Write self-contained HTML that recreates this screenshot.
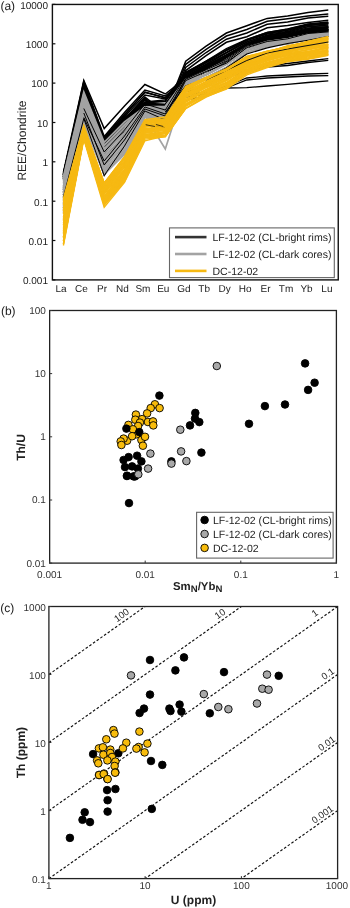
<!DOCTYPE html>
<html><head><meta charset="utf-8"><style>
html,body{margin:0;padding:0;background:#fff;}
body{width:350px;height:908px;position:relative;overflow:hidden;font-family:"Liberation Sans", sans-serif;}
svg text{font-family:"Liberation Sans", sans-serif;text-rendering:geometricPrecision;}
svg{will-change:transform;}
</style></head><body>
<svg width="350" height="908" viewBox="0 0 350 908" style="position:absolute;left:0;top:0">
<defs><clipPath id="ca"><rect x="52.4" y="4.45" width="285.85" height="275.45"/></clipPath></defs>
<g clip-path="url(#ca)">
<polyline points="63.4,190.0 83.8,100.0 104.2,150.0 124.5,128.0 144.9,124.0 165.3,127.0 185.7,95.0 206.1,92.0 226.4,86.0 246.8,78.0 267.2,76.0 287.6,75.0 308.0,74.0 328.3,73.3" fill="none" stroke="#000" stroke-width="1.3" stroke-linejoin="miter" stroke-miterlimit="10"/>
<polyline points="63.4,195.0 83.8,105.0 104.2,158.0 124.5,135.0 144.9,125.0 165.3,128.0 185.7,100.0 206.1,96.0 226.4,88.0 246.8,87.7 267.2,86.0 287.6,84.3 308.0,82.5 328.3,80.9" fill="none" stroke="#000" stroke-width="1.3" stroke-linejoin="miter" stroke-miterlimit="10"/>
<polyline points="63.4,192.0 83.8,102.0 104.2,154.0 124.5,131.0 144.9,110.0 165.3,115.0 185.7,97.0 206.1,94.0 226.4,88.0 246.8,80.0 267.2,78.0 287.6,77.0 308.0,76.0 328.3,75.7" fill="none" stroke="#000" stroke-width="1.3" stroke-linejoin="miter" stroke-miterlimit="10"/>
<polyline points="63.4,188.0 83.8,98.0 104.2,146.0 124.5,124.0 144.9,104.0 165.3,110.0 185.7,90.0 206.1,84.0 226.4,76.0 246.8,70.0 267.2,67.0 287.6,65.5 308.0,62.5 328.3,60.3" fill="none" stroke="#000" stroke-width="1.3" stroke-linejoin="miter" stroke-miterlimit="10"/>
<polyline points="63.4,189.0 83.8,99.0 104.2,148.0 124.5,126.0 144.9,106.0 165.3,112.0 185.7,92.0 206.1,86.0 226.4,78.0 246.8,71.0 267.2,66.0 287.6,63.5 308.0,61.0 328.3,58.6" fill="none" stroke="#000" stroke-width="1.3" stroke-linejoin="miter" stroke-miterlimit="10"/>
<polyline points="63.4,174.0 83.8,85.0 104.2,141.5 124.5,119.0 144.9,97.0 165.3,113.0 185.7,61.2 206.1,46.2 226.4,33.0 246.8,25.7 267.2,18.4 287.6,16.1 308.0,12.5 328.3,10.0" fill="none" stroke="#000" stroke-width="1.5" stroke-linejoin="miter" stroke-miterlimit="10"/>
<polyline points="63.4,175.0 83.8,86.0 104.2,142.5 124.5,120.0 144.9,98.0 165.3,115.0 185.7,64.3 206.1,49.4 226.4,36.0 246.8,29.5 267.2,21.3 287.6,18.7 308.0,16.0 328.3,14.1" fill="none" stroke="#000" stroke-width="1.5" stroke-linejoin="miter" stroke-miterlimit="10"/>
<polyline points="63.4,176.0 83.8,87.0 104.2,143.5 124.5,121.0 144.9,99.0 165.3,117.0 185.7,67.5 206.1,52.5 226.4,39.2 246.8,33.0 267.2,24.2 287.6,22.1 308.0,18.0 328.3,16.2" fill="none" stroke="#000" stroke-width="1.5" stroke-linejoin="miter" stroke-miterlimit="10"/>
<polyline points="63.4,177.0 83.8,88.0 104.2,144.5 124.5,122.0 144.9,100.0 165.3,118.5 185.7,70.6 206.1,55.7 226.4,42.3 246.8,36.7 267.2,27.8 287.6,25.6 308.0,22.4 328.3,20.3" fill="none" stroke="#000" stroke-width="1.5" stroke-linejoin="miter" stroke-miterlimit="10"/>
<polyline points="63.4,172.5 83.8,80.5 104.2,128.5 124.5,106.0 144.9,84.5 165.3,94.0 185.7,78.0 206.1,66.0 226.4,55.0 246.8,44.0 267.2,37.0 287.6,34.0 308.0,30.0 328.3,28.0" fill="none" stroke="#000" stroke-width="1.5" stroke-linejoin="miter" stroke-miterlimit="10"/>
<polyline points="63.4,175.0 83.8,81.5 104.2,136.5 124.5,112.5 144.9,90.0 165.3,96.0 185.7,79.0 206.1,67.5 226.4,56.5 246.8,45.0 267.2,38.0 287.6,35.0 308.0,31.0 328.3,29.0" fill="none" stroke="#000" stroke-width="1.5" stroke-linejoin="miter" stroke-miterlimit="10"/>
<polyline points="63.4,177.0 83.8,82.5 104.2,138.0 124.5,114.5 144.9,92.5 165.3,97.5 185.7,80.0 206.1,69.0 226.4,58.0 246.8,46.0 267.2,39.0 287.6,36.0 308.0,32.0 328.3,30.0" fill="none" stroke="#000" stroke-width="1.5" stroke-linejoin="miter" stroke-miterlimit="10"/>
<polyline points="63.4,179.0 83.8,83.5 104.2,139.5 124.5,116.5 144.9,95.0 165.3,99.0 185.7,81.0 206.1,70.0 226.4,59.0 246.8,47.0 267.2,40.0 287.6,37.0 308.0,33.0 328.3,31.0" fill="none" stroke="#000" stroke-width="1.5" stroke-linejoin="miter" stroke-miterlimit="10"/>
<polyline points="63.4,173.5 83.8,85.0 104.2,141.0 124.5,117.5 144.9,102.0 165.3,100.0 185.7,72.2 206.1,61.0 226.4,48.6 246.8,39.3 267.2,32.4 287.6,29.0 308.0,24.0 328.3,22.0" fill="none" stroke="#000" stroke-width="1.3" stroke-linejoin="miter" stroke-miterlimit="10"/>
<polyline points="63.4,173.3 83.8,85.0 104.2,141.5 124.5,118.5 144.9,102.5 165.3,100.9 185.7,73.4 206.1,61.0 226.4,50.0 246.8,39.5 267.2,32.5 287.6,29.1 308.0,24.3 328.3,23.1" fill="none" stroke="#000" stroke-width="1.3" stroke-linejoin="miter" stroke-miterlimit="10"/>
<polyline points="63.4,173.7 83.8,86.0 104.2,141.8 124.5,118.1 144.9,102.8 165.3,101.5 185.7,72.6 206.1,61.9 226.4,50.7 246.8,40.2 267.2,33.3 287.6,30.4 308.0,25.1 328.3,23.0" fill="none" stroke="#000" stroke-width="1.3" stroke-linejoin="miter" stroke-miterlimit="10"/>
<polyline points="63.4,175.0 83.8,86.7 104.2,141.6 124.5,118.9 144.9,103.2 165.3,104.1 185.7,74.3 206.1,62.9 226.4,52.4 246.8,40.5 267.2,34.2 287.6,31.4 308.0,25.5 328.3,24.1" fill="none" stroke="#000" stroke-width="1.3" stroke-linejoin="miter" stroke-miterlimit="10"/>
<polyline points="63.4,174.3 83.8,87.1 104.2,142.7 124.5,119.4 144.9,104.1 165.3,104.6 185.7,74.8 206.1,64.1 226.4,52.9 246.8,41.6 267.2,35.5 287.6,32.4 308.0,26.7 328.3,25.0" fill="none" stroke="#000" stroke-width="1.3" stroke-linejoin="miter" stroke-miterlimit="10"/>
<polyline points="63.4,174.7 83.8,87.6 104.2,142.9 124.5,120.3 144.9,104.4 165.3,105.6 185.7,74.9 206.1,64.9 226.4,53.0 246.8,42.1 267.2,35.1 287.6,31.9 308.0,26.7 328.3,25.8" fill="none" stroke="#000" stroke-width="1.3" stroke-linejoin="miter" stroke-miterlimit="10"/>
<polyline points="63.4,175.2 83.8,87.4 104.2,142.8 124.5,120.6 144.9,103.8 165.3,107.1 185.7,75.8 206.1,65.9 226.4,55.2 246.8,43.3 267.2,35.9 287.6,33.0 308.0,27.8 328.3,26.7" fill="none" stroke="#000" stroke-width="1.3" stroke-linejoin="miter" stroke-miterlimit="10"/>
<polyline points="63.4,176.7 83.8,87.8 104.2,142.9 124.5,120.2 144.9,104.4 165.3,108.4 185.7,76.5 206.1,65.8 226.4,55.1 246.8,43.3 267.2,36.7 287.6,33.9 308.0,29.3 328.3,27.2" fill="none" stroke="#000" stroke-width="1.3" stroke-linejoin="miter" stroke-miterlimit="10"/>
<polyline points="63.4,176.4 83.8,88.9 104.2,143.9 124.5,120.3 144.9,105.7 165.3,109.9 185.7,77.4 206.1,67.2 226.4,56.6 246.8,43.8 267.2,36.9 287.6,34.6 308.0,28.7 328.3,26.9" fill="none" stroke="#000" stroke-width="1.3" stroke-linejoin="miter" stroke-miterlimit="10"/>
<polyline points="63.4,176.4 83.8,88.7 104.2,143.8 124.5,120.8 144.9,104.9 165.3,110.3 185.7,76.9 206.1,67.4 226.4,57.2 246.8,45.0 267.2,38.3 287.6,34.7 308.0,29.7 328.3,28.0" fill="none" stroke="#000" stroke-width="1.3" stroke-linejoin="miter" stroke-miterlimit="10"/>
<polyline points="63.4,177.0 83.8,89.2 104.2,144.8 124.5,122.5 144.9,106.0 165.3,112.0 185.7,77.5 206.1,67.8 226.4,58.7 246.8,44.8 267.2,39.3 287.6,35.4 308.0,30.0 328.3,29.6" fill="none" stroke="#000" stroke-width="1.3" stroke-linejoin="miter" stroke-miterlimit="10"/>
<polyline points="63.4,177.6 83.8,89.6 104.2,144.7 124.5,121.6 144.9,106.4 165.3,113.8 185.7,79.1 206.1,69.3 226.4,59.5 246.8,45.5 267.2,38.9 287.6,36.9 308.0,31.3 328.3,30.0" fill="none" stroke="#000" stroke-width="1.3" stroke-linejoin="miter" stroke-miterlimit="10"/>
<polyline points="63.4,177.7 83.8,90.2 104.2,145.4 124.5,123.4 144.9,107.3 165.3,114.8 185.7,79.7 206.1,70.1 226.4,60.5 246.8,46.3 267.2,39.9 287.6,36.6 308.0,31.3 328.3,30.0" fill="none" stroke="#000" stroke-width="1.3" stroke-linejoin="miter" stroke-miterlimit="10"/>
<polyline points="63.4,177.9 83.8,91.4 104.2,146.0 124.5,123.1 144.9,107.8 165.3,116.3 185.7,80.5 206.1,70.4 226.4,61.6 246.8,46.5 267.2,40.3 287.6,37.5 308.0,32.9 328.3,31.6" fill="none" stroke="#000" stroke-width="1.3" stroke-linejoin="miter" stroke-miterlimit="10"/>
<polyline points="63.4,179.1 83.8,91.5 104.2,145.9 124.5,124.0 144.9,107.0 165.3,117.0 185.7,81.0 206.1,71.6 226.4,63.3 246.8,47.4 267.2,40.9 287.6,39.0 308.0,33.1 328.3,32.1" fill="none" stroke="#000" stroke-width="1.3" stroke-linejoin="miter" stroke-miterlimit="10"/>
<polyline points="63.4,179.0 83.8,92.0 104.2,146.0 124.5,124.0 144.9,108.0 165.3,118.0 185.7,81.0 206.1,72.0 226.4,64.0 246.8,48.0 267.2,42.0 287.6,39.3 308.0,34.0 328.3,32.4" fill="none" stroke="#000" stroke-width="1.3" stroke-linejoin="miter" stroke-miterlimit="10"/>
<polyline points="63.4,180.0 83.8,84.0 104.2,138.0 124.5,115.0 144.9,92.0 165.3,98.0 185.7,73.1 206.1,62.1 226.4,50.1 246.8,40.2 267.2,33.4 287.6,30.0 308.0,25.0 328.3,23.0" fill="none" stroke="#000" stroke-width="1.3" stroke-linejoin="miter" stroke-miterlimit="10"/>
<polyline points="63.4,189.7 83.8,108.5 104.2,152.0 124.5,130.0 144.9,104.0 165.3,110.0 185.7,76.6 206.1,66.5 226.4,56.3 246.8,43.6 267.2,37.2 287.6,34.1 308.0,29.0 328.3,27.2" fill="none" stroke="#000" stroke-width="1.3" stroke-linejoin="miter" stroke-miterlimit="10"/>
<polyline points="63.4,192.5 83.8,117.5 104.2,161.0 124.5,136.0 144.9,107.0 165.3,114.0 185.7,78.4 206.1,68.7 226.4,59.4 246.8,45.4 267.2,39.1 287.6,36.2 308.0,31.0 328.3,29.3" fill="none" stroke="#000" stroke-width="1.3" stroke-linejoin="miter" stroke-miterlimit="10"/>
<polyline points="63.4,194.5 83.8,113.0 104.2,165.0 124.5,140.0 144.9,109.0 165.3,116.0 185.7,79.2 206.1,69.8 226.4,60.9 246.8,46.3 267.2,40.1 287.6,37.2 308.0,32.0 328.3,30.3" fill="none" stroke="#000" stroke-width="1.3" stroke-linejoin="miter" stroke-miterlimit="10"/>
<polyline points="63.4,197.2 83.8,118.5 104.2,175.5 124.5,146.0 144.9,111.0 165.3,120.0 185.7,80.6 206.1,71.5 226.4,63.2 246.8,47.6 267.2,41.5 287.6,38.8 308.0,33.5 328.3,31.9" fill="none" stroke="#000" stroke-width="1.3" stroke-linejoin="miter" stroke-miterlimit="10"/>
<polyline points="63.4,180.0 83.8,84.0 104.2,138.0 124.5,115.0 144.9,92.0 165.3,98.0 185.7,73.1 206.1,62.1 226.4,50.1 246.8,40.2 267.2,33.4 287.6,30.0 308.0,25.0 328.3,23.0" fill="none" stroke="#000" stroke-width="1.0" stroke-linejoin="miter" stroke-miterlimit="10"/>
<polyline points="63.4,189.7 83.8,108.5" fill="none" stroke="#000" stroke-width="1.0" stroke-linejoin="miter" stroke-miterlimit="10"/>
<polyline points="63.4,192.5 83.8,117.5" fill="none" stroke="#000" stroke-width="1.0" stroke-linejoin="miter" stroke-miterlimit="10"/>
<polyline points="63.4,194.5 83.8,113.0" fill="none" stroke="#000" stroke-width="1.0" stroke-linejoin="miter" stroke-miterlimit="10"/>
<polyline points="63.4,176.7 83.8,92.1 104.2,142.3 124.5,122.0 144.9,106.9 165.3,106.3 185.7,79.1 206.1,70.9 226.4,60.0 246.8,46.9 267.2,41.5 287.6,38.8 308.0,34.7 328.3,32.7" fill="none" stroke="#A3A3A3" stroke-width="1.7" stroke-linejoin="miter" stroke-miterlimit="10"/>
<polyline points="63.4,178.6 83.8,93.7 104.2,145.3 124.5,124.4 144.9,107.4 165.3,106.9 185.7,79.4 206.1,71.0 226.4,60.1 246.8,47.0 267.2,41.4 287.6,39.0 308.0,34.5 328.3,32.9" fill="none" stroke="#A3A3A3" stroke-width="1.7" stroke-linejoin="miter" stroke-miterlimit="10"/>
<polyline points="63.4,179.5 83.8,95.2 104.2,145.5 124.5,125.6 144.9,107.6 165.3,107.7 185.7,79.8 206.1,71.0 226.4,60.0 246.8,47.0 267.2,41.7 287.6,39.1 308.0,34.7 328.3,33.0" fill="none" stroke="#A3A3A3" stroke-width="1.7" stroke-linejoin="miter" stroke-miterlimit="10"/>
<polyline points="63.4,181.5 83.8,96.7 104.2,148.5 124.5,128.3 144.9,106.8 165.3,107.8 185.7,79.9 206.1,71.1 226.4,60.1 246.8,46.8 267.2,41.7 287.6,39.2 308.0,34.4 328.3,33.0" fill="none" stroke="#A3A3A3" stroke-width="1.7" stroke-linejoin="miter" stroke-miterlimit="10"/>
<polyline points="63.4,183.5 83.8,98.1 104.2,150.1 124.5,129.8 144.9,107.4 165.3,109.3 185.7,80.4 206.1,70.8 226.4,59.9 246.8,47.1 267.2,41.5 287.6,38.8 308.0,34.7 328.3,32.9" fill="none" stroke="#A3A3A3" stroke-width="1.7" stroke-linejoin="miter" stroke-miterlimit="10"/>
<polyline points="63.4,186.3 83.8,98.8 104.2,150.2 124.5,129.7 144.9,109.2 165.3,109.8 185.7,79.9 206.1,71.1 226.4,59.8 246.8,46.8 267.2,41.6 287.6,39.0 308.0,34.3 328.3,33.0" fill="none" stroke="#A3A3A3" stroke-width="1.7" stroke-linejoin="miter" stroke-miterlimit="10"/>
<polyline points="63.4,187.3 83.8,101.7 104.2,151.3 124.5,132.9 144.9,108.3 165.3,111.9 185.7,80.9 206.1,74.3 226.4,63.8 246.8,49.8 267.2,43.6 287.6,41.2 308.0,36.7 328.3,34.5" fill="none" stroke="#A3A3A3" stroke-width="1.7" stroke-linejoin="miter" stroke-miterlimit="10"/>
<polyline points="63.4,188.2 83.8,102.7 104.2,153.0 124.5,133.4 144.9,108.7 165.3,111.5 185.7,80.4 206.1,74.5 226.4,64.0 246.8,50.2 267.2,43.7 287.6,41.3 308.0,36.8 328.3,34.6" fill="none" stroke="#A3A3A3" stroke-width="1.7" stroke-linejoin="miter" stroke-miterlimit="10"/>
<polyline points="63.4,190.0 83.8,104.9 104.2,155.6 124.5,135.5 144.9,110.0 165.3,112.6 185.7,80.8 206.1,74.7 226.4,64.1 246.8,49.9 267.2,43.6 287.6,41.2 308.0,36.7 328.3,34.2" fill="none" stroke="#A3A3A3" stroke-width="1.7" stroke-linejoin="miter" stroke-miterlimit="10"/>
<polyline points="63.4,191.9 83.8,105.2 104.2,157.6 124.5,137.7 144.9,110.8 165.3,113.2 185.7,82.9 206.1,74.5 226.4,63.8 246.8,49.9 267.2,43.5 287.6,41.2 308.0,36.5 328.3,34.2" fill="none" stroke="#A3A3A3" stroke-width="1.7" stroke-linejoin="miter" stroke-miterlimit="10"/>
<polyline points="63.4,193.3 83.8,106.7 104.2,158.4 124.5,138.3 144.9,111.7 165.3,114.9 185.7,82.8 206.1,74.3 226.4,64.2 246.8,50.2 267.2,43.8 287.6,41.4 308.0,36.9 328.3,34.2" fill="none" stroke="#A3A3A3" stroke-width="1.7" stroke-linejoin="miter" stroke-miterlimit="10"/>
<polyline points="63.4,195.4 83.8,108.8 104.2,160.4 124.5,140.4 144.9,112.4 165.3,115.6 185.7,83.5 206.1,74.7 226.4,64.0 246.8,50.1 267.2,43.8 287.6,41.4 308.0,36.7 328.3,34.2" fill="none" stroke="#A3A3A3" stroke-width="1.7" stroke-linejoin="miter" stroke-miterlimit="10"/>
<polyline points="63.4,197.6 83.8,110.8 104.2,161.3 124.5,141.4 144.9,112.6 165.3,115.4 185.7,83.5 206.1,74.5 226.4,63.9 246.8,50.0 267.2,43.8 287.6,41.4 308.0,36.8 328.3,34.5" fill="none" stroke="#A3A3A3" stroke-width="1.7" stroke-linejoin="miter" stroke-miterlimit="10"/>
<polyline points="63.4,197.8 83.8,111.1 104.2,162.3 124.5,143.3 144.9,112.4 165.3,117.3 185.7,82.4 206.1,74.5 226.4,64.0 246.8,49.8 267.2,43.9 287.6,41.1 308.0,37.0 328.3,34.6" fill="none" stroke="#A3A3A3" stroke-width="1.7" stroke-linejoin="miter" stroke-miterlimit="10"/>
<polyline points="63.4,199.4 83.8,113.3 104.2,165.0 124.5,145.3 144.9,113.2 165.3,117.5 185.7,83.1 206.1,74.7 226.4,64.0 246.8,50.2 267.2,43.9 287.6,41.2 308.0,36.9 328.3,34.4" fill="none" stroke="#A3A3A3" stroke-width="1.7" stroke-linejoin="miter" stroke-miterlimit="10"/>
<polyline points="63.4,201.0 83.8,113.9 104.2,165.8 124.5,145.8 144.9,113.5 165.3,118.1 185.7,83.7 206.1,74.6 226.4,64.2 246.8,49.9 267.2,43.7 287.6,41.2 308.0,37.0 328.3,34.4" fill="none" stroke="#A3A3A3" stroke-width="1.7" stroke-linejoin="miter" stroke-miterlimit="10"/>
<polyline points="63.4,203.4 83.8,116.2 104.2,166.9 124.5,146.5 144.9,113.6 165.3,120.4 185.7,83.9 206.1,78.2 226.4,68.2 246.8,53.1 267.2,46.2 287.6,43.8 308.0,39.0 328.3,36.1" fill="none" stroke="#A3A3A3" stroke-width="1.7" stroke-linejoin="miter" stroke-miterlimit="10"/>
<polyline points="63.4,204.4 83.8,118.4 104.2,168.8 124.5,149.4 144.9,115.2 165.3,120.1 185.7,83.8 206.1,77.9 226.4,68.1 246.8,52.9 267.2,46.0 287.6,43.5 308.0,38.8 328.3,35.8" fill="none" stroke="#A3A3A3" stroke-width="1.7" stroke-linejoin="miter" stroke-miterlimit="10"/>
<polyline points="63.4,206.4 83.8,120.2 104.2,170.4 124.5,149.9 144.9,116.2 165.3,122.4 185.7,84.9 206.1,78.0 226.4,68.2 246.8,53.1 267.2,46.0 287.6,43.6 308.0,39.0 328.3,35.9" fill="none" stroke="#A3A3A3" stroke-width="1.7" stroke-linejoin="miter" stroke-miterlimit="10"/>
<polyline points="63.4,208.3 83.8,120.1 104.2,171.5 124.5,152.9 144.9,115.2 165.3,122.3 185.7,85.6 206.1,78.2 226.4,68.2 246.8,52.8 267.2,45.8 287.6,43.7 308.0,39.2 328.3,36.0" fill="none" stroke="#A3A3A3" stroke-width="1.7" stroke-linejoin="miter" stroke-miterlimit="10"/>
<polyline points="63.4,210.5 83.8,121.5 104.2,173.3 124.5,154.3 144.9,117.1 165.3,123.9 185.7,86.6 206.1,78.1 226.4,68.1 246.8,53.0 267.2,46.0 287.6,43.4 308.0,39.1 328.3,35.9" fill="none" stroke="#A3A3A3" stroke-width="1.7" stroke-linejoin="miter" stroke-miterlimit="10"/>
<polyline points="63.4,212.8 83.8,124.3 104.2,174.6 124.5,154.3 144.9,116.5 165.3,124.3 185.7,86.4 206.1,77.8 226.4,67.9 246.8,53.0 267.2,46.2 287.6,43.7 308.0,39.2 328.3,36.0" fill="none" stroke="#A3A3A3" stroke-width="1.7" stroke-linejoin="miter" stroke-miterlimit="10"/>
<polyline points="63.4,208.5 83.8,120.8 104.2,171.8 124.5,151.8 144.9,115.9 165.3,149.0 185.7,85.3 206.1,77.3 226.4,67.2 246.8,52.4 267.2,45.5 287.6,43.1 308.0,38.5 328.3,35.7" fill="none" stroke="#A3A3A3" stroke-width="1.7" stroke-linejoin="miter" stroke-miterlimit="10"/>
<polyline points="83.8,108.5 104.2,152.0 124.5,130.0 144.9,104.0 165.3,110.0 185.7,76.6 206.1,66.5 226.4,56.3 246.8,43.6 267.2,37.2 287.6,34.1 308.0,29.0 328.3,27.2" fill="none" stroke="#000" stroke-width="1.0" stroke-linejoin="miter" stroke-miterlimit="10"/>
<polyline points="83.8,117.5 104.2,161.0 124.5,136.0 144.9,107.0 165.3,114.0 185.7,78.4 206.1,68.7 226.4,59.4 246.8,45.4 267.2,39.1 287.6,36.2 308.0,31.0 328.3,29.3" fill="none" stroke="#000" stroke-width="1.0" stroke-linejoin="miter" stroke-miterlimit="10"/>
<polyline points="83.8,113.0 104.2,165.0 124.5,140.0 144.9,109.0 165.3,116.0 185.7,79.2 206.1,69.8 226.4,60.9 246.8,46.3 267.2,40.1 287.6,37.2 308.0,32.0 328.3,30.3" fill="none" stroke="#000" stroke-width="1.0" stroke-linejoin="miter" stroke-miterlimit="10"/>
<polyline points="63.4,197.2 83.8,118.5 104.2,175.5 124.5,146.0 144.9,111.0 165.3,120.0 185.7,80.6 206.1,71.5 226.4,63.2 246.8,47.6 267.2,41.5 287.6,38.8 308.0,33.5 328.3,31.9" fill="none" stroke="#000" stroke-width="1.0" stroke-linejoin="miter" stroke-miterlimit="10"/>
<polyline points="165.3,112.0 185.7,86.0 206.1,79.0 226.4,68.0 246.8,54.0 267.2,47.9 287.6,43.5 308.0,40.2 328.3,36.5" fill="none" stroke="#000" stroke-width="1.1" stroke-linejoin="miter" stroke-miterlimit="10"/>
<polyline points="63.4,198.5 83.8,125.5 104.2,182.9 124.5,156.9 144.9,119.6 165.3,117.0 185.7,86.5 206.1,77.8 226.4,68.8 246.8,56.5 267.2,51.3 287.6,46.9 308.0,41.5 328.3,36.6" fill="none" stroke="#F6B913" stroke-width="1.4" stroke-linejoin="miter" stroke-miterlimit="10"/>
<polyline points="63.4,200.1 83.8,126.2 104.2,183.1 124.5,156.7 144.9,121.2 165.3,119.1 185.7,87.2 206.1,77.5 226.4,70.5 246.8,57.1 267.2,52.1 287.6,45.9 308.0,41.9 328.3,38.6" fill="none" stroke="#F6B913" stroke-width="1.4" stroke-linejoin="miter" stroke-miterlimit="10"/>
<polyline points="63.4,201.4 83.8,127.7 104.2,183.5 124.5,157.5 144.9,120.7 165.3,119.0 185.7,88.2 206.1,79.6 226.4,69.5 246.8,57.8 267.2,51.4 287.6,47.9 308.0,42.3 328.3,37.7" fill="none" stroke="#F6B913" stroke-width="1.4" stroke-linejoin="miter" stroke-miterlimit="10"/>
<polyline points="63.4,202.4 83.8,127.0 104.2,185.0 124.5,159.7 144.9,122.3 165.3,120.7 185.7,89.4 206.1,78.9 226.4,70.1 246.8,59.4 267.2,52.9 287.6,46.5 308.0,43.8 328.3,38.9" fill="none" stroke="#F6B913" stroke-width="1.4" stroke-linejoin="miter" stroke-miterlimit="10"/>
<polyline points="63.4,204.4 83.8,127.2 104.2,184.3 124.5,158.7 144.9,122.0 165.3,120.0 185.7,90.1 206.1,79.1 226.4,72.3 246.8,58.5 267.2,52.7 287.6,48.6 308.0,44.6 328.3,39.5" fill="none" stroke="#F6B913" stroke-width="1.4" stroke-linejoin="miter" stroke-miterlimit="10"/>
<polyline points="63.4,205.2 83.8,127.9 104.2,185.5 124.5,161.4 144.9,122.4 165.3,120.6 185.7,90.7 206.1,79.5 226.4,71.8 246.8,60.2 267.2,54.0 287.6,47.5 308.0,43.6 328.3,39.4" fill="none" stroke="#F6B913" stroke-width="1.4" stroke-linejoin="miter" stroke-miterlimit="10"/>
<polyline points="63.4,208.4 83.8,127.9 104.2,186.9 124.5,162.1 144.9,123.3 165.3,121.0 185.7,91.5 206.1,81.3 226.4,72.1 246.8,60.5 267.2,53.5 287.6,48.5 308.0,44.0 328.3,41.3" fill="none" stroke="#F6B913" stroke-width="1.4" stroke-linejoin="miter" stroke-miterlimit="10"/>
<polyline points="63.4,209.8 83.8,129.0 104.2,188.1 124.5,161.2 144.9,123.7 165.3,122.0 185.7,92.2 206.1,82.5 226.4,72.9 246.8,60.1 267.2,54.3 287.6,49.4 308.0,46.4 328.3,40.7" fill="none" stroke="#F6B913" stroke-width="1.4" stroke-linejoin="miter" stroke-miterlimit="10"/>
<polyline points="63.4,211.0 83.8,129.6 104.2,188.6 124.5,163.5 144.9,125.1 165.3,122.3 185.7,91.6 206.1,82.0 226.4,74.3 246.8,60.3 267.2,54.3 287.6,50.4 308.0,45.5 328.3,41.0" fill="none" stroke="#F6B913" stroke-width="1.4" stroke-linejoin="miter" stroke-miterlimit="10"/>
<polyline points="63.4,210.9 83.8,129.7 104.2,188.3 124.5,164.7 144.9,126.2 165.3,124.2 185.7,92.2 206.1,82.0 226.4,73.5 246.8,61.6 267.2,55.8 287.6,50.3 308.0,46.0 328.3,42.2" fill="none" stroke="#F6B913" stroke-width="1.4" stroke-linejoin="miter" stroke-miterlimit="10"/>
<polyline points="63.4,213.5 83.8,130.3 104.2,189.9 124.5,165.2 144.9,126.4 165.3,123.0 185.7,94.0 206.1,83.0 226.4,75.0 246.8,61.9 267.2,56.3 287.6,50.2 308.0,46.5 328.3,42.4" fill="none" stroke="#F6B913" stroke-width="1.4" stroke-linejoin="miter" stroke-miterlimit="10"/>
<polyline points="63.4,214.0 83.8,131.1 104.2,190.3 124.5,165.0 144.9,126.5 165.3,125.3 185.7,94.0 206.1,83.5 226.4,76.1 246.8,63.0 267.2,57.3 287.6,50.5 308.0,47.4 328.3,44.1" fill="none" stroke="#F6B913" stroke-width="1.4" stroke-linejoin="miter" stroke-miterlimit="10"/>
<polyline points="63.4,216.8 83.8,131.6 104.2,190.0 124.5,165.7 144.9,126.5 165.3,124.3 185.7,95.6 206.1,84.8 226.4,77.0 246.8,62.9 267.2,57.6 287.6,51.7 308.0,47.5 328.3,44.6" fill="none" stroke="#F6B913" stroke-width="1.4" stroke-linejoin="miter" stroke-miterlimit="10"/>
<polyline points="63.4,218.4 83.8,130.3 104.2,191.8 124.5,167.2 144.9,127.3 165.3,125.2 185.7,94.6 206.1,84.6 226.4,76.2 246.8,63.9 267.2,57.6 287.6,51.7 308.0,47.5 328.3,44.2" fill="none" stroke="#F6B913" stroke-width="1.4" stroke-linejoin="miter" stroke-miterlimit="10"/>
<polyline points="63.4,219.3 83.8,130.9 104.2,192.0 124.5,167.1 144.9,129.1 165.3,126.2 185.7,95.2 206.1,85.0 226.4,77.1 246.8,64.3 267.2,58.1 287.6,52.0 308.0,48.3 328.3,45.5" fill="none" stroke="#F6B913" stroke-width="1.4" stroke-linejoin="miter" stroke-miterlimit="10"/>
<polyline points="63.4,220.2 83.8,131.5 104.2,192.8 124.5,169.5 144.9,128.7 165.3,126.8 185.7,96.4 206.1,86.2 226.4,78.6 246.8,65.7 267.2,58.0 287.6,52.7 308.0,50.0 328.3,45.1" fill="none" stroke="#F6B913" stroke-width="1.4" stroke-linejoin="miter" stroke-miterlimit="10"/>
<polyline points="63.4,220.8 83.8,133.1 104.2,193.7 124.5,170.0 144.9,129.5 165.3,128.0 185.7,97.3 206.1,86.3 226.4,77.5 246.8,65.3 267.2,59.0 287.6,54.6 308.0,49.2 328.3,46.5" fill="none" stroke="#F6B913" stroke-width="1.4" stroke-linejoin="miter" stroke-miterlimit="10"/>
<polyline points="63.4,223.0 83.8,132.7 104.2,193.9 124.5,169.7 144.9,130.3 165.3,128.6 185.7,97.3 206.1,87.5 226.4,79.7 246.8,66.7 267.2,58.6 287.6,53.5 308.0,51.4 328.3,47.7" fill="none" stroke="#F6B913" stroke-width="1.4" stroke-linejoin="miter" stroke-miterlimit="10"/>
<polyline points="63.4,224.6 83.8,132.2 104.2,196.2 124.5,170.7 144.9,131.7 165.3,128.6 185.7,99.4 206.1,87.5 226.4,80.2 246.8,65.7 267.2,59.5 287.6,55.4 308.0,51.7 328.3,46.7" fill="none" stroke="#F6B913" stroke-width="1.4" stroke-linejoin="miter" stroke-miterlimit="10"/>
<polyline points="63.4,225.5 83.8,133.3 104.2,196.1 124.5,171.5 144.9,130.8 165.3,128.4 185.7,99.9 206.1,89.5 226.4,79.3 246.8,66.9 267.2,60.7 287.6,54.3 308.0,52.2 328.3,47.1" fill="none" stroke="#F6B913" stroke-width="1.4" stroke-linejoin="miter" stroke-miterlimit="10"/>
<line x1="145.9" y1="124.8" x2="154.9" y2="126.5" stroke="#111" stroke-width="0.8"/>
<line x1="155.9" y1="124.5" x2="163.3" y2="126.5" stroke="#111" stroke-width="0.8"/>
<polyline points="63.4,227.7 83.8,134.0 104.2,197.1 124.5,172.2 144.9,132.0 165.3,129.7 185.7,100.0 206.1,89.6 226.4,80.7 246.8,67.2 267.2,59.7 287.6,55.9 308.0,52.0 328.3,47.9" fill="none" stroke="#F6B913" stroke-width="1.4" stroke-linejoin="miter" stroke-miterlimit="10"/>
<polyline points="63.4,229.4 83.8,134.8 104.2,197.5 124.5,172.7 144.9,132.7 165.3,129.3 185.7,100.1 206.1,89.8 226.4,80.6 246.8,67.7 267.2,61.2 287.6,55.3 308.0,52.8 328.3,48.1" fill="none" stroke="#F6B913" stroke-width="1.4" stroke-linejoin="miter" stroke-miterlimit="10"/>
<polyline points="63.4,230.8 83.8,135.2 104.2,198.4 124.5,173.3 144.9,133.3 165.3,130.4 185.7,102.4 206.1,89.8 226.4,82.7 246.8,69.3 267.2,62.1 287.6,57.3 308.0,52.4 328.3,50.5" fill="none" stroke="#F6B913" stroke-width="1.4" stroke-linejoin="miter" stroke-miterlimit="10"/>
<polyline points="63.4,231.7 83.8,136.0 104.2,199.9 124.5,174.3 144.9,134.5 165.3,132.1 185.7,101.3 206.1,90.8 226.4,83.1 246.8,68.2 267.2,62.9 287.6,56.7 308.0,54.1 328.3,49.3" fill="none" stroke="#F6B913" stroke-width="1.4" stroke-linejoin="miter" stroke-miterlimit="10"/>
<polyline points="63.4,233.2 83.8,136.3 104.2,199.2 124.5,175.3 144.9,134.6 165.3,131.5 185.7,101.9 206.1,91.0 226.4,82.5 246.8,70.2 267.2,63.0 287.6,58.4 308.0,53.3 328.3,51.2" fill="none" stroke="#F6B913" stroke-width="1.4" stroke-linejoin="miter" stroke-miterlimit="10"/>
<polyline points="63.4,233.8 83.8,135.9 104.2,200.8 124.5,176.3 144.9,135.9 165.3,132.5 185.7,103.7 206.1,93.0 226.4,83.0 246.8,70.9 267.2,63.4 287.6,57.9 308.0,55.1 328.3,50.7" fill="none" stroke="#F6B913" stroke-width="1.4" stroke-linejoin="miter" stroke-miterlimit="10"/>
<polyline points="63.4,237.0 83.8,136.4 104.2,201.0 124.5,177.9 144.9,135.6 165.3,132.3 185.7,104.7 206.1,92.0 226.4,85.0 246.8,69.9 267.2,63.9 287.6,59.6 308.0,55.2 328.3,52.0" fill="none" stroke="#F6B913" stroke-width="1.4" stroke-linejoin="miter" stroke-miterlimit="10"/>
<polyline points="63.4,237.1 83.8,135.6 104.2,201.1 124.5,177.5 144.9,136.6 165.3,133.4 185.7,104.9 206.1,94.2 226.4,84.2 246.8,70.4 267.2,64.4 287.6,58.1 308.0,54.5 328.3,51.9" fill="none" stroke="#F6B913" stroke-width="1.4" stroke-linejoin="miter" stroke-miterlimit="10"/>
<polyline points="63.4,238.1 83.8,136.7 104.2,202.2 124.5,179.2 144.9,137.1 165.3,133.5 185.7,105.8 206.1,94.0 226.4,84.8 246.8,72.3 267.2,64.1 287.6,58.9 308.0,55.2 328.3,53.0" fill="none" stroke="#F6B913" stroke-width="1.4" stroke-linejoin="miter" stroke-miterlimit="10"/>
<polyline points="63.4,241.0 83.8,138.0 104.2,203.3 124.5,179.3 144.9,136.6 165.3,135.0 185.7,106.4 206.1,94.3 226.4,86.4 246.8,71.8 267.2,65.9 287.6,60.5 308.0,56.0 328.3,54.1" fill="none" stroke="#F6B913" stroke-width="1.4" stroke-linejoin="miter" stroke-miterlimit="10"/>
<polyline points="63.4,240.8 83.8,137.9 104.2,204.1 124.5,180.1 144.9,137.3 165.3,135.8 185.7,106.0 206.1,95.3 226.4,87.6 246.8,71.7 267.2,64.9 287.6,60.8 308.0,57.0 328.3,54.1" fill="none" stroke="#F6B913" stroke-width="1.4" stroke-linejoin="miter" stroke-miterlimit="10"/>
<polyline points="63.4,243.8 83.8,137.6 104.2,204.6 124.5,181.0 144.9,137.9 165.3,136.6 185.7,108.2 206.1,96.2 226.4,86.3 246.8,73.7 267.2,66.5 287.6,61.0 308.0,58.0 328.3,54.3" fill="none" stroke="#F6B913" stroke-width="1.4" stroke-linejoin="miter" stroke-miterlimit="10"/>
<polyline points="63.4,244.0 83.8,137.8 104.2,205.2 124.5,181.3 144.9,139.1 165.3,136.9 185.7,108.7 206.1,97.1 226.4,88.3 246.8,73.0 267.2,66.6 287.6,61.4 308.0,58.6 328.3,55.0" fill="none" stroke="#F6B913" stroke-width="1.4" stroke-linejoin="miter" stroke-miterlimit="10"/>
<polyline points="63.4,245.5 83.8,139.3 104.2,207.4 124.5,182.4 144.9,140.8 165.3,136.0 185.7,108.5 206.1,96.5 226.4,89.0 246.8,74.9 267.2,67.5 287.6,61.7 308.0,59.3 328.3,55.2" fill="none" stroke="#F6B913" stroke-width="1.4" stroke-linejoin="miter" stroke-miterlimit="10"/>
<polyline points="206.1,80.0 226.4,70.5 246.8,60.5 267.2,53.0 287.6,49.0 308.0,45.5 328.3,42.0" fill="none" stroke="#111" stroke-width="1.0" stroke-linejoin="miter" stroke-miterlimit="10"/>
<polyline points="185.7,86.5 206.1,77.8 226.4,68.8 246.8,56.5 267.2,51.3 287.6,46.9 308.0,41.5 328.3,36.6" fill="none" stroke="#F6B913" stroke-width="1.4" stroke-linejoin="miter" stroke-miterlimit="10"/>
<polyline points="185.7,87.2 206.1,77.5 226.4,70.5 246.8,57.1 267.2,52.1 287.6,45.9 308.0,41.9 328.3,38.6" fill="none" stroke="#F6B913" stroke-width="1.4" stroke-linejoin="miter" stroke-miterlimit="10"/>
<polyline points="185.7,88.2 206.1,79.6 226.4,69.5 246.8,57.8 267.2,51.4 287.6,47.9 308.0,42.3 328.3,37.7" fill="none" stroke="#F6B913" stroke-width="1.4" stroke-linejoin="miter" stroke-miterlimit="10"/>
</g>
<rect x="52.4" y="4.45" width="285.85" height="275.45" fill="none" stroke="#111" stroke-width="1.4"/>
<line x1="52.4" y1="279.9" x2="55.4" y2="279.9" stroke="#111" stroke-width="1.2"/>
<text x="48" y="284.2" font-size="10" text-anchor="end" fill="#222">0.001</text>
<line x1="52.4" y1="240.5" x2="55.4" y2="240.5" stroke="#111" stroke-width="1.2"/>
<text x="48" y="244.8" font-size="10" text-anchor="end" fill="#222">0.01</text>
<line x1="52.4" y1="201.2" x2="55.4" y2="201.2" stroke="#111" stroke-width="1.2"/>
<text x="48" y="205.5" font-size="10" text-anchor="end" fill="#222">0.1</text>
<line x1="52.4" y1="161.8" x2="55.4" y2="161.8" stroke="#111" stroke-width="1.2"/>
<text x="48" y="166.2" font-size="10" text-anchor="end" fill="#222">1</text>
<line x1="52.4" y1="122.5" x2="55.4" y2="122.5" stroke="#111" stroke-width="1.2"/>
<text x="48" y="126.8" font-size="10" text-anchor="end" fill="#222">10</text>
<line x1="52.4" y1="83.1" x2="55.4" y2="83.1" stroke="#111" stroke-width="1.2"/>
<text x="48" y="87.4" font-size="10" text-anchor="end" fill="#222">100</text>
<line x1="52.4" y1="43.8" x2="55.4" y2="43.8" stroke="#111" stroke-width="1.2"/>
<text x="48" y="48.1" font-size="10" text-anchor="end" fill="#222">1000</text>
<line x1="52.4" y1="4.4" x2="55.4" y2="4.4" stroke="#111" stroke-width="1.2"/>
<text x="48" y="8.7" font-size="10" text-anchor="end" fill="#222">10000</text>
<text x="61.1" y="292.2" font-size="10" text-anchor="middle" fill="#222">La</text>
<text x="81.5" y="292.2" font-size="10" text-anchor="middle" fill="#222">Ce</text>
<text x="102.0" y="292.2" font-size="10" text-anchor="middle" fill="#222">Pr</text>
<text x="122.4" y="292.2" font-size="10" text-anchor="middle" fill="#222">Nd</text>
<text x="142.9" y="292.2" font-size="10" text-anchor="middle" fill="#222">Sm</text>
<text x="163.3" y="292.2" font-size="10" text-anchor="middle" fill="#222">Eu</text>
<text x="183.8" y="292.2" font-size="10" text-anchor="middle" fill="#222">Gd</text>
<text x="204.2" y="292.2" font-size="10" text-anchor="middle" fill="#222">Tb</text>
<text x="224.7" y="292.2" font-size="10" text-anchor="middle" fill="#222">Dy</text>
<text x="245.1" y="292.2" font-size="10" text-anchor="middle" fill="#222">Ho</text>
<text x="265.6" y="292.2" font-size="10" text-anchor="middle" fill="#222">Er</text>
<text x="286.1" y="292.2" font-size="10" text-anchor="middle" fill="#222">Tm</text>
<text x="306.5" y="292.2" font-size="10" text-anchor="middle" fill="#222">Yb</text>
<text x="326.9" y="292.2" font-size="10" text-anchor="middle" fill="#222">Lu</text>
<text x="26.5" y="140.6" font-size="12" text-anchor="middle" fill="#222" transform="rotate(-90 26.5 140.6)">REE/Chondrite</text>
<text x="0.4" y="10.0" font-size="12" fill="#222">(a)</text>
<rect x="169.5" y="227.9" width="164.8" height="49.7" fill="#fff" stroke="#666" stroke-width="1.1"/>
<line x1="175" y1="237.1" x2="206.5" y2="237.1" stroke="#333" stroke-width="2.6"/>
<text x="212.5" y="240.8" font-size="10.55" fill="#222">LF-12-02 (CL-bright rims)</text>
<line x1="175" y1="254.0" x2="206.5" y2="254.0" stroke="#A3A3A3" stroke-width="2.6"/>
<text x="212.5" y="257.7" font-size="10.55" fill="#222">LF-12-02 (CL-dark cores)</text>
<line x1="175" y1="270.9" x2="206.5" y2="270.9" stroke="#F6B913" stroke-width="2.6"/>
<text x="212.5" y="274.6" font-size="10.55" fill="#222">DC-12-02</text>
<rect x="49.65" y="310.5" width="286.75" height="252.60000000000002" fill="none" stroke="#222" stroke-width="1.3"/>
<line x1="49.65" y1="563.1" x2="52.15" y2="563.1" stroke="#333" stroke-width="1"/>
<text x="45.9" y="566.5" font-size="10" text-anchor="end" fill="#333">0.01</text>
<line x1="49.65" y1="500.0" x2="52.15" y2="500.0" stroke="#333" stroke-width="1"/>
<text x="45.9" y="503.4" font-size="10" text-anchor="end" fill="#333">0.1</text>
<line x1="49.65" y1="436.8" x2="52.15" y2="436.8" stroke="#333" stroke-width="1"/>
<text x="45.9" y="440.2" font-size="10" text-anchor="end" fill="#333">1</text>
<line x1="49.65" y1="373.6" x2="52.15" y2="373.6" stroke="#333" stroke-width="1"/>
<text x="45.9" y="377.0" font-size="10" text-anchor="end" fill="#333">10</text>
<line x1="49.65" y1="310.5" x2="52.15" y2="310.5" stroke="#333" stroke-width="1"/>
<text x="45.9" y="313.9" font-size="10" text-anchor="end" fill="#333">100</text>
<line x1="49.6" y1="563.1" x2="49.6" y2="560.6" stroke="#333" stroke-width="1"/>
<text x="49.6" y="577.6" font-size="10" text-anchor="middle" fill="#333">0.001</text>
<line x1="145.2" y1="563.1" x2="145.2" y2="560.6" stroke="#333" stroke-width="1"/>
<text x="145.2" y="577.6" font-size="10" text-anchor="middle" fill="#333">0.01</text>
<line x1="240.8" y1="563.1" x2="240.8" y2="560.6" stroke="#333" stroke-width="1"/>
<text x="240.8" y="577.6" font-size="10" text-anchor="middle" fill="#333">0.1</text>
<line x1="336.4" y1="563.1" x2="336.4" y2="560.6" stroke="#333" stroke-width="1"/>
<text x="336.4" y="577.6" font-size="10" text-anchor="middle" fill="#333">1</text>
<text x="25.3" y="447.5" font-size="12" font-weight="bold" text-anchor="middle" fill="#222" transform="rotate(-90 25.3 447.5)">Th/U</text>
<text x="173.0" y="590.2" font-size="11.4" font-weight="bold" fill="#222">Sm<tspan font-size="9.6" dy="2.2">N</tspan><tspan dy="-2.2">/Yb</tspan><tspan font-size="9.6" dy="2.2">N</tspan></text>
<text x="0.9" y="315.1" font-size="12" fill="#222">(b)</text>
<circle cx="159.4" cy="395.6" r="3.8" fill="#000" stroke="#000" stroke-width="0.9"/>
<circle cx="305.1" cy="363.4" r="3.8" fill="#000" stroke="#000" stroke-width="0.9"/>
<circle cx="314.6" cy="382.7" r="3.8" fill="#000" stroke="#000" stroke-width="0.9"/>
<circle cx="308.1" cy="389.9" r="3.8" fill="#000" stroke="#000" stroke-width="0.9"/>
<circle cx="285.0" cy="404.5" r="3.8" fill="#000" stroke="#000" stroke-width="0.9"/>
<circle cx="264.9" cy="406.1" r="3.8" fill="#000" stroke="#000" stroke-width="0.9"/>
<circle cx="249.0" cy="423.8" r="3.8" fill="#000" stroke="#000" stroke-width="0.9"/>
<circle cx="195.3" cy="412.9" r="3.8" fill="#000" stroke="#000" stroke-width="0.9"/>
<circle cx="195.0" cy="418.6" r="3.8" fill="#000" stroke="#000" stroke-width="0.9"/>
<circle cx="199.3" cy="422.1" r="3.8" fill="#000" stroke="#000" stroke-width="0.9"/>
<circle cx="190.0" cy="425.4" r="3.8" fill="#000" stroke="#000" stroke-width="0.9"/>
<circle cx="201.4" cy="452.6" r="3.8" fill="#000" stroke="#000" stroke-width="0.9"/>
<circle cx="171.4" cy="461.4" r="3.8" fill="#000" stroke="#000" stroke-width="0.9"/>
<circle cx="128.6" cy="457.1" r="3.8" fill="#000" stroke="#000" stroke-width="0.9"/>
<circle cx="137.1" cy="455.7" r="3.8" fill="#000" stroke="#000" stroke-width="0.9"/>
<circle cx="123.6" cy="460.0" r="3.8" fill="#000" stroke="#000" stroke-width="0.9"/>
<circle cx="141.4" cy="461.4" r="3.8" fill="#000" stroke="#000" stroke-width="0.9"/>
<circle cx="125.0" cy="467.1" r="3.8" fill="#000" stroke="#000" stroke-width="0.9"/>
<circle cx="132.1" cy="466.4" r="3.8" fill="#000" stroke="#000" stroke-width="0.9"/>
<circle cx="137.9" cy="468.6" r="3.8" fill="#000" stroke="#000" stroke-width="0.9"/>
<circle cx="127.1" cy="475.7" r="3.8" fill="#000" stroke="#000" stroke-width="0.9"/>
<circle cx="133.6" cy="476.4" r="3.8" fill="#000" stroke="#000" stroke-width="0.9"/>
<circle cx="126.9" cy="476.0" r="3.8" fill="#000" stroke="#000" stroke-width="0.9"/>
<circle cx="135.0" cy="476.4" r="3.8" fill="#000" stroke="#000" stroke-width="0.9"/>
<circle cx="129.0" cy="503.1" r="3.8" fill="#000" stroke="#000" stroke-width="0.9"/>
<circle cx="216.8" cy="366.0" r="3.8" fill="#A8A8A8" stroke="#000" stroke-width="0.9"/>
<circle cx="180.3" cy="429.7" r="3.8" fill="#A8A8A8" stroke="#000" stroke-width="0.9"/>
<circle cx="181.1" cy="451.4" r="3.8" fill="#A8A8A8" stroke="#000" stroke-width="0.9"/>
<circle cx="186.4" cy="461.1" r="3.8" fill="#A8A8A8" stroke="#000" stroke-width="0.9"/>
<circle cx="171.4" cy="463.6" r="3.8" fill="#A8A8A8" stroke="#000" stroke-width="0.9"/>
<circle cx="150.4" cy="453.6" r="3.8" fill="#A8A8A8" stroke="#000" stroke-width="0.9"/>
<circle cx="148.1" cy="468.6" r="3.8" fill="#A8A8A8" stroke="#000" stroke-width="0.9"/>
<circle cx="138.3" cy="474.3" r="3.8" fill="#A8A8A8" stroke="#000" stroke-width="0.9"/>
<circle cx="154.9" cy="404.3" r="3.8" fill="#F8BC0C" stroke="#000" stroke-width="0.9"/>
<circle cx="159.6" cy="408.1" r="3.8" fill="#F8BC0C" stroke="#000" stroke-width="0.9"/>
<circle cx="150.7" cy="408.1" r="3.8" fill="#F8BC0C" stroke="#000" stroke-width="0.9"/>
<circle cx="147.1" cy="413.4" r="3.8" fill="#F8BC0C" stroke="#000" stroke-width="0.9"/>
<circle cx="135.9" cy="414.6" r="3.8" fill="#F8BC0C" stroke="#000" stroke-width="0.9"/>
<circle cx="142.1" cy="419.1" r="3.8" fill="#F8BC0C" stroke="#000" stroke-width="0.9"/>
<circle cx="135.3" cy="419.7" r="3.8" fill="#F8BC0C" stroke="#000" stroke-width="0.9"/>
<circle cx="147.9" cy="422.0" r="3.8" fill="#F8BC0C" stroke="#000" stroke-width="0.9"/>
<circle cx="153.0" cy="421.4" r="3.8" fill="#F8BC0C" stroke="#000" stroke-width="0.9"/>
<circle cx="153.3" cy="425.4" r="3.8" fill="#F8BC0C" stroke="#000" stroke-width="0.9"/>
<circle cx="139.9" cy="422.6" r="3.8" fill="#F8BC0C" stroke="#000" stroke-width="0.9"/>
<circle cx="138.1" cy="426.0" r="3.8" fill="#F8BC0C" stroke="#000" stroke-width="0.9"/>
<circle cx="128.4" cy="424.9" r="3.8" fill="#F8BC0C" stroke="#000" stroke-width="0.9"/>
<circle cx="141.4" cy="440.0" r="3.8" fill="#F8BC0C" stroke="#000" stroke-width="0.9"/>
<circle cx="127.1" cy="440.7" r="3.8" fill="#F8BC0C" stroke="#000" stroke-width="0.9"/>
<circle cx="123.6" cy="438.6" r="3.8" fill="#F8BC0C" stroke="#000" stroke-width="0.9"/>
<circle cx="120.7" cy="441.4" r="3.8" fill="#F8BC0C" stroke="#000" stroke-width="0.9"/>
<circle cx="121.4" cy="445.0" r="3.8" fill="#F8BC0C" stroke="#000" stroke-width="0.9"/>
<circle cx="142.9" cy="445.7" r="3.8" fill="#F8BC0C" stroke="#000" stroke-width="0.9"/>
<circle cx="136.4" cy="434.3" r="3.8" fill="#F8BC0C" stroke="#000" stroke-width="0.9"/>
<circle cx="132.9" cy="429.3" r="3.8" fill="#F8BC0C" stroke="#000" stroke-width="0.9"/>
<circle cx="126.4" cy="428.6" r="3.8" fill="#000" stroke="#000" stroke-width="0.9"/>
<circle cx="139.3" cy="432.1" r="3.8" fill="#000" stroke="#000" stroke-width="0.9"/>
<circle cx="132.1" cy="436.2" r="3.8" fill="#F8BC0C" stroke="#000" stroke-width="0.9"/>
<circle cx="145.0" cy="436.8" r="3.8" fill="#F8BC0C" stroke="#000" stroke-width="0.9"/>
<rect x="196.6" y="512.3" width="136.5" height="45.8" fill="#fff" stroke="#666" stroke-width="1.1"/>
<circle cx="204.6" cy="520.0" r="3.8" fill="#000" stroke="#000" stroke-width="0.9"/>
<text x="212.9" y="523.7" font-size="10.55" fill="#222">LF-12-02 (CL-bright rims)</text>
<circle cx="204.6" cy="534.0" r="3.8" fill="#A8A8A8" stroke="#000" stroke-width="0.9"/>
<text x="212.9" y="537.7" font-size="10.55" fill="#222">LF-12-02 (CL-dark cores)</text>
<circle cx="204.6" cy="547.9" r="3.8" fill="#F8BC0C" stroke="#000" stroke-width="0.9"/>
<text x="212.9" y="551.6" font-size="10.55" fill="#222">DC-12-02</text>
<defs><clipPath id="cc"><rect x="48.9" y="606.5" width="288.70000000000005" height="272.1"/></clipPath></defs>
<g clip-path="url(#cc)">
<line x1="48.9" y1="674.5" x2="337.6" y2="470.4" stroke="#111" stroke-width="1.15" stroke-dasharray="2.6,1.9"/>
<line x1="48.9" y1="742.5" x2="337.6" y2="538.5" stroke="#111" stroke-width="1.15" stroke-dasharray="2.6,1.9"/>
<line x1="48.9" y1="810.6" x2="337.6" y2="606.5" stroke="#111" stroke-width="1.15" stroke-dasharray="2.6,1.9"/>
<line x1="48.9" y1="878.6" x2="337.6" y2="674.5" stroke="#111" stroke-width="1.15" stroke-dasharray="2.6,1.9"/>
<line x1="48.9" y1="946.6" x2="337.6" y2="742.5" stroke="#111" stroke-width="1.15" stroke-dasharray="2.6,1.9"/>
<line x1="48.9" y1="1014.7" x2="337.6" y2="810.6" stroke="#111" stroke-width="1.15" stroke-dasharray="2.6,1.9"/>
</g>
<text x="121.7" y="618.4" font-size="9.5" text-anchor="middle" fill="#222" transform="rotate(-35.3 121.7 615.4)">100</text>
<text x="220.2" y="617.1" font-size="9.5" text-anchor="middle" fill="#222" transform="rotate(-35.3 220.2 614.1)">10</text>
<text x="314.9" y="616.4" font-size="9.5" text-anchor="middle" fill="#222" transform="rotate(-35.3 314.9 613.4)">1</text>
<text x="328" y="677" font-size="9.5" text-anchor="middle" fill="#222" transform="rotate(-35.3 328 674)">0.1</text>
<text x="326.9" y="746.7" font-size="9.5" text-anchor="middle" fill="#222" transform="rotate(-35.3 326.9 743.7)">0.01</text>
<text x="322.6" y="817.6" font-size="9.5" text-anchor="middle" fill="#222" transform="rotate(-35.3 322.6 814.6)">0.001</text>
<rect x="48.9" y="606.5" width="288.70000000000005" height="272.1" fill="none" stroke="#222" stroke-width="1.3"/>
<line x1="48.9" y1="878.6" x2="51.4" y2="878.6" stroke="#333" stroke-width="1"/>
<text x="45.8" y="883.2" font-size="10" text-anchor="end" fill="#333">0.1</text>
<line x1="48.9" y1="810.6" x2="51.4" y2="810.6" stroke="#333" stroke-width="1"/>
<text x="45.8" y="815.2" font-size="10" text-anchor="end" fill="#333">1</text>
<line x1="48.9" y1="742.5" x2="51.4" y2="742.5" stroke="#333" stroke-width="1"/>
<text x="45.8" y="747.1" font-size="10" text-anchor="end" fill="#333">10</text>
<line x1="48.9" y1="674.5" x2="51.4" y2="674.5" stroke="#333" stroke-width="1"/>
<text x="45.8" y="679.1" font-size="10" text-anchor="end" fill="#333">100</text>
<line x1="48.9" y1="606.5" x2="51.4" y2="606.5" stroke="#333" stroke-width="1"/>
<text x="45.8" y="611.3" font-size="10" text-anchor="end" fill="#333">1000</text>
<line x1="48.9" y1="878.6" x2="48.9" y2="876.1" stroke="#333" stroke-width="1"/>
<text x="48.9" y="888.9" font-size="10" text-anchor="middle" fill="#333">1</text>
<line x1="145.1" y1="878.6" x2="145.1" y2="876.1" stroke="#333" stroke-width="1"/>
<text x="145.1" y="888.9" font-size="10" text-anchor="middle" fill="#333">10</text>
<line x1="241.4" y1="878.6" x2="241.4" y2="876.1" stroke="#333" stroke-width="1"/>
<text x="241.4" y="888.9" font-size="10" text-anchor="middle" fill="#333">100</text>
<line x1="337.6" y1="878.6" x2="337.6" y2="876.1" stroke="#333" stroke-width="1"/>
<text x="336.9" y="888.9" font-size="10" text-anchor="middle" fill="#333">1000</text>
<text x="25.0" y="752.6" font-size="12" font-weight="bold" text-anchor="middle" fill="#222" transform="rotate(-90 25.0 752.6)">Th (ppm)</text>
<text x="193.5" y="904.0" font-size="12" font-weight="bold" text-anchor="middle" fill="#222">U (ppm)</text>
<text x="0.3" y="612.3" font-size="12" fill="#222">(c)</text>
<circle cx="150.0" cy="660.0" r="3.8" fill="#000" stroke="#000" stroke-width="0.9"/>
<circle cx="184.0" cy="657.4" r="3.8" fill="#000" stroke="#000" stroke-width="0.9"/>
<circle cx="175.4" cy="670.4" r="3.8" fill="#000" stroke="#000" stroke-width="0.9"/>
<circle cx="224.0" cy="672.1" r="3.8" fill="#000" stroke="#000" stroke-width="0.9"/>
<circle cx="278.7" cy="675.8" r="3.8" fill="#000" stroke="#000" stroke-width="0.9"/>
<circle cx="150.0" cy="694.6" r="3.8" fill="#000" stroke="#000" stroke-width="0.9"/>
<circle cx="144.0" cy="708.6" r="3.8" fill="#000" stroke="#000" stroke-width="0.9"/>
<circle cx="139.6" cy="713.0" r="3.8" fill="#000" stroke="#000" stroke-width="0.9"/>
<circle cx="169.4" cy="708.6" r="3.8" fill="#000" stroke="#000" stroke-width="0.9"/>
<circle cx="170.5" cy="711.0" r="3.8" fill="#000" stroke="#000" stroke-width="0.9"/>
<circle cx="179.6" cy="704.6" r="3.8" fill="#000" stroke="#000" stroke-width="0.9"/>
<circle cx="181.4" cy="711.6" r="3.8" fill="#000" stroke="#000" stroke-width="0.9"/>
<circle cx="209.8" cy="713.3" r="3.8" fill="#000" stroke="#000" stroke-width="0.9"/>
<circle cx="93.1" cy="754.1" r="3.8" fill="#000" stroke="#000" stroke-width="0.9"/>
<circle cx="118.3" cy="753.3" r="3.8" fill="#000" stroke="#000" stroke-width="0.9"/>
<circle cx="151.0" cy="761.0" r="3.8" fill="#000" stroke="#000" stroke-width="0.9"/>
<circle cx="162.3" cy="764.9" r="3.8" fill="#000" stroke="#000" stroke-width="0.9"/>
<circle cx="151.8" cy="808.9" r="3.8" fill="#000" stroke="#000" stroke-width="0.9"/>
<circle cx="107.1" cy="790.1" r="3.8" fill="#000" stroke="#000" stroke-width="0.9"/>
<circle cx="115.4" cy="789.0" r="3.8" fill="#000" stroke="#000" stroke-width="0.9"/>
<circle cx="107.6" cy="800.2" r="3.8" fill="#000" stroke="#000" stroke-width="0.9"/>
<circle cx="107.6" cy="811.6" r="3.8" fill="#000" stroke="#000" stroke-width="0.9"/>
<circle cx="84.7" cy="812.3" r="3.8" fill="#000" stroke="#000" stroke-width="0.9"/>
<circle cx="82.5" cy="819.8" r="3.8" fill="#000" stroke="#000" stroke-width="0.9"/>
<circle cx="90.0" cy="822.1" r="3.8" fill="#000" stroke="#000" stroke-width="0.9"/>
<circle cx="69.9" cy="837.9" r="3.8" fill="#000" stroke="#000" stroke-width="0.9"/>
<circle cx="131.0" cy="675.4" r="3.8" fill="#A8A8A8" stroke="#000" stroke-width="0.9"/>
<circle cx="267.0" cy="674.6" r="3.8" fill="#A8A8A8" stroke="#000" stroke-width="0.9"/>
<circle cx="262.3" cy="688.7" r="3.8" fill="#A8A8A8" stroke="#000" stroke-width="0.9"/>
<circle cx="268.6" cy="689.7" r="3.8" fill="#A8A8A8" stroke="#000" stroke-width="0.9"/>
<circle cx="203.8" cy="694.1" r="3.8" fill="#A8A8A8" stroke="#000" stroke-width="0.9"/>
<circle cx="257.0" cy="703.5" r="3.8" fill="#A8A8A8" stroke="#000" stroke-width="0.9"/>
<circle cx="218.3" cy="707.0" r="3.8" fill="#A8A8A8" stroke="#000" stroke-width="0.9"/>
<circle cx="228.4" cy="709.2" r="3.8" fill="#A8A8A8" stroke="#000" stroke-width="0.9"/>
<circle cx="113.4" cy="730.1" r="3.8" fill="#F8BC0C" stroke="#000" stroke-width="0.9"/>
<circle cx="114.5" cy="733.6" r="3.8" fill="#F8BC0C" stroke="#000" stroke-width="0.9"/>
<circle cx="139.4" cy="731.6" r="3.8" fill="#F8BC0C" stroke="#000" stroke-width="0.9"/>
<circle cx="106.3" cy="739.3" r="3.8" fill="#F8BC0C" stroke="#000" stroke-width="0.9"/>
<circle cx="126.3" cy="742.7" r="3.8" fill="#F8BC0C" stroke="#000" stroke-width="0.9"/>
<circle cx="122.9" cy="748.4" r="3.8" fill="#F8BC0C" stroke="#000" stroke-width="0.9"/>
<circle cx="147.4" cy="743.6" r="3.8" fill="#F8BC0C" stroke="#000" stroke-width="0.9"/>
<circle cx="138.6" cy="747.0" r="3.8" fill="#F8BC0C" stroke="#000" stroke-width="0.9"/>
<circle cx="136.4" cy="748.6" r="3.8" fill="#F8BC0C" stroke="#000" stroke-width="0.9"/>
<circle cx="144.6" cy="752.4" r="3.8" fill="#F8BC0C" stroke="#000" stroke-width="0.9"/>
<circle cx="98.9" cy="748.4" r="3.8" fill="#F8BC0C" stroke="#000" stroke-width="0.9"/>
<circle cx="102.9" cy="747.3" r="3.8" fill="#F8BC0C" stroke="#000" stroke-width="0.9"/>
<circle cx="110.3" cy="749.6" r="3.8" fill="#F8BC0C" stroke="#000" stroke-width="0.9"/>
<circle cx="103.4" cy="754.7" r="3.8" fill="#F8BC0C" stroke="#000" stroke-width="0.9"/>
<circle cx="110.3" cy="753.0" r="3.8" fill="#F8BC0C" stroke="#000" stroke-width="0.9"/>
<circle cx="112.0" cy="757.0" r="3.8" fill="#F8BC0C" stroke="#000" stroke-width="0.9"/>
<circle cx="97.1" cy="760.4" r="3.8" fill="#F8BC0C" stroke="#000" stroke-width="0.9"/>
<circle cx="115.4" cy="761.6" r="3.8" fill="#F8BC0C" stroke="#000" stroke-width="0.9"/>
<circle cx="98.3" cy="763.3" r="3.8" fill="#F8BC0C" stroke="#000" stroke-width="0.9"/>
<circle cx="107.4" cy="760.4" r="3.8" fill="#F8BC0C" stroke="#000" stroke-width="0.9"/>
<circle cx="114.6" cy="766.0" r="3.8" fill="#F8BC0C" stroke="#000" stroke-width="0.9"/>
<circle cx="115.4" cy="772.4" r="3.8" fill="#F8BC0C" stroke="#000" stroke-width="0.9"/>
<circle cx="99.0" cy="775.0" r="3.8" fill="#F8BC0C" stroke="#000" stroke-width="0.9"/>
<circle cx="104.0" cy="773.6" r="3.8" fill="#F8BC0C" stroke="#000" stroke-width="0.9"/>
<circle cx="107.4" cy="779.0" r="3.8" fill="#F8BC0C" stroke="#000" stroke-width="0.9"/>
<circle cx="99.1" cy="775.0" r="3.8" fill="#F8BC0C" stroke="#000" stroke-width="0.9"/>
<circle cx="103.7" cy="774.1" r="3.8" fill="#F8BC0C" stroke="#000" stroke-width="0.9"/>
<circle cx="107.6" cy="779.1" r="3.8" fill="#F8BC0C" stroke="#000" stroke-width="0.9"/>
<circle cx="115.1" cy="772.7" r="3.8" fill="#F8BC0C" stroke="#000" stroke-width="0.9"/>
</svg>
</body></html>
